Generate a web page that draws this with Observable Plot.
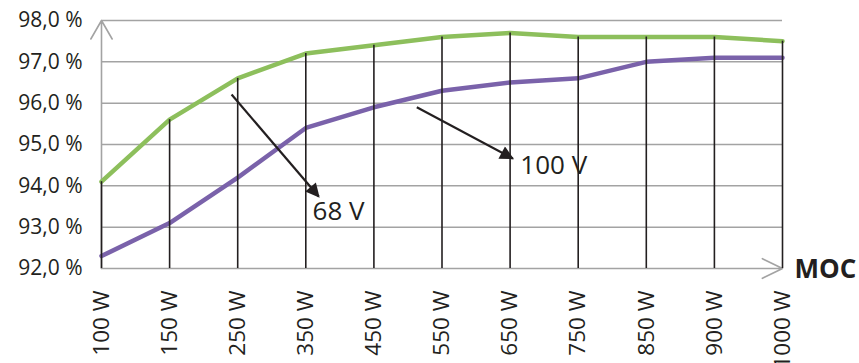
<!DOCTYPE html>
<html>
<head>
<meta charset="utf-8">
<script src="https://cdn.jsdelivr.net/npm/d3@7"></script>
<script src="https://cdn.jsdelivr.net/npm/@observablehq/plot@0.6"></script>
<style>
  html, body { margin: 0; padding: 0; background: #fff; }
  #chart svg { display: block; }
</style>
</head>
<body>
<div id="chart"></div>
<script>
const categories = ["100 W", "150 W", "250 W", "350 W", "450 W", "550 W", "650 W", "750 W", "850 W", "900 W", "1000 W"];
const green68 = [94.1, 95.6, 96.6, 97.2, 97.4, 97.6, 97.7, 97.6, 97.6, 97.6, 97.5];
const purple100 = [92.3, 93.1, 94.2, 95.4, 95.9, 96.3, 96.5, 96.6, 97.0, 97.1, 97.1];
const yTicks = [92, 93, 94, 95, 96, 97, 98];
const yTickLabels = ["92,0 %", "93,0 %", "94,0 %", "95,0 %", "96,0 %", "97,0 %", "98,0 %"];
const xAxisLabel = "MOC";
const annotationLabels = ["68 V", "100 V"];
const arrowFromX = [1.91, 4.63];
const arrowFromY = [96.21, 95.9];
const arrowToX = [3.19, 6.04];
const arrowToY = [93.74, 94.66];
const labelX = [3.1, 6.15];
const labelY = [93.38, 94.49];

const idx = categories.map((_, i) => i);
const greenData = idx.map(i => ({x: i, y: green68[i]}));
const purpleData = idx.map(i => ({x: i, y: purple100[i]}));
const annotations = annotationLabels.map((label, i) => ({
  label, x1: arrowFromX[i], y1: arrowFromY[i], x2: arrowToX[i], y2: arrowToY[i], lx: labelX[i], ly: labelY[i]
}));

const ink = "#231f20";
const gridGray = "#a3a3a3";
const font = "'Open Sans', sans-serif";
const yMin = yTicks[0], yMax = yTicks[yTicks.length - 1];
const xMax = categories.length - 1;

const chart = Plot.plot({
  width: 859,
  height: 363,
  marginLeft: 101,
  marginRight: 77,
  marginTop: 20,
  marginBottom: 95,
  style: {fontFamily: font, color: ink, background: "#fff"},
  x: {type: "linear", domain: [0, xMax], axis: null},
  y: {domain: [yMin, yMax], axis: null},
  marks: [
    Plot.ruleY(yTicks.slice(1), {stroke: gridGray, strokeWidth: 1.5}),
    Plot.arrow([{x1: 0, y1: yMin, x2: 0, y2: yMax}], {x1: "x1", y1: "y1", x2: "x2", y2: "y2", stroke: gridGray, strokeWidth: 1.6, headLength: 20, headAngle: 60}),
    Plot.arrow([{x1: 0, y1: yMin, x2: xMax, y2: yMin}], {x1: "x1", y1: "y1", x2: "x2", y2: "y2", stroke: gridGray, strokeWidth: 1.6, headLength: 21, headAngle: 52}),
    Plot.line(purpleData, {x: "x", y: "y", stroke: "#7a62aa", strokeWidth: 4.5}),
    Plot.line(greenData, {x: "x", y: "y", stroke: "#8dbf5c", strokeWidth: 4.5}),
    Plot.ruleX(greenData, {x: "x", y1: yMin, y2: "y", stroke: ink, strokeWidth: 1.6}),
    Plot.text(yTicks, {x: 0, y: d => d, text: (d, i) => yTickLabels[i], dx: -19, textAnchor: "end", fontSize: 21, fill: ink}),
    Plot.text(idx, {x: d => d, y: yMin, text: d => categories[d], rotate: -90, textAnchor: "end", dy: 22, fontSize: 22.5, fill: ink}),
    Plot.text([xAxisLabel], {x: xMax, y: yMin, text: d => d, dx: 12, dy: 1, textAnchor: "start", fontSize: 26, fontWeight: "bold", fill: ink}),
    Plot.link(annotations, {x1: "x1", y1: "y1", x2: "x2", y2: "y2", stroke: ink, strokeWidth: 2.2}),
    Plot.text(annotations, {x: "lx", y: "ly", text: "label", textAnchor: "start", fontSize: 26, fill: ink})
  ]
});

// filled arrowheads for annotation arrows
const ns = "http://www.w3.org/2000/svg";
const defs = document.createElementNS(ns, "defs");
const marker = document.createElementNS(ns, "marker");
marker.setAttribute("id", "filled-head");
marker.setAttribute("viewBox", "0 0 10 10");
marker.setAttribute("refX", "9");
marker.setAttribute("refY", "5");
marker.setAttribute("markerUnits", "userSpaceOnUse");
marker.setAttribute("markerWidth", "16");
marker.setAttribute("markerHeight", "14");
marker.setAttribute("orient", "auto");
const mp = document.createElementNS(ns, "path");
mp.setAttribute("d", "M0,0L10,5L0,10Z");
mp.setAttribute("fill", ink);
marker.appendChild(mp);
defs.appendChild(marker);
chart.insertBefore(defs, chart.firstChild);
chart.querySelectorAll('g[aria-label="link"] path').forEach(p => p.setAttribute("marker-end", "url(#filled-head)"));

document.getElementById("chart").appendChild(chart);
</script>
</body>
</html>
